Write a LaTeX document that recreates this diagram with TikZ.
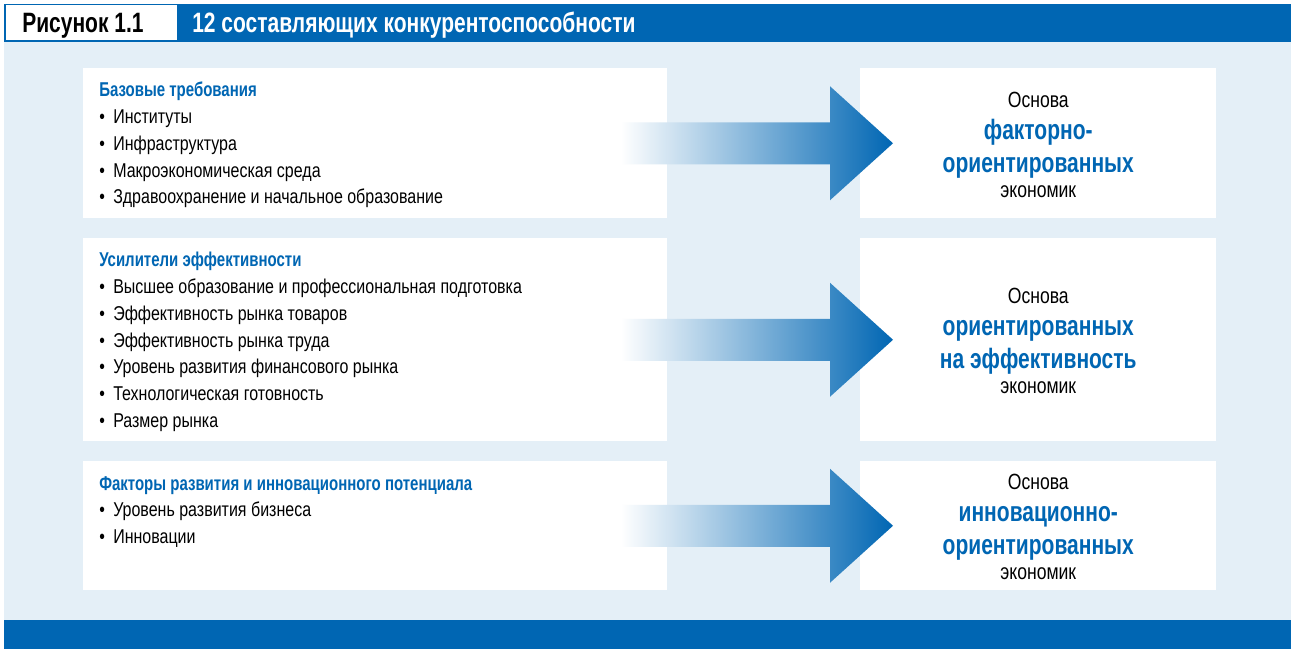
\documentclass[tikz,border=0pt]{standalone}
\usepackage{fontspec}
\setmainfont{Liberation Sans}[FakeStretch=0.8, BoldFeatures={FakeStretch=0.75}]
\usepackage{xcolor}
\usepackage{tikz}
\usetikzlibrary{positioning,calc}

\definecolor{wefblue}{HTML}{0066B3}
\definecolor{wefpale}{HTML}{E4EFF7}
\pgfdeclarehorizontalshading{arrowfade}{100bp}{color(0bp)=(white); color(25bp)=(white); color(75bp)=(wefblue); color(100bp)=(wefblue)}

\begin{document}
\begin{tikzpicture}[x=0.75pt, y=-0.75pt,
        box/.style={fill=white, inner sep=0pt, anchor=north west},
        lbox/.style={box, minimum width=438pt},
        rbox/.style={box, minimum width=267pt},
        head/.style={anchor=base west, inner sep=0pt, text=wefblue, font=\fontsize{15}{18}\selectfont\bfseries},
        item/.style={anchor=base west, inner sep=0pt, font=\fontsize{15}{18}\selectfont},
        small/.style={anchor=base, inner sep=0pt, font=\fontsize{16.5}{19}\selectfont},
        big/.style={anchor=base, inner sep=0pt, text=wefblue, font=\fontsize{21}{24}\selectfont\bfseries},
        title/.style={anchor=base west, inner sep=0pt, font=\fontsize{21}{24}\selectfont\bfseries}]

    \useasboundingbox[fill=white] (0,0) rectangle (1293,649);
    \fill[wefpale] (4,42) rectangle (1291,620);
    \fill[wefblue] (4,4) rectangle (1291,42);
    \fill[wefblue] (4,620) rectangle (1291,649);

    \node[box, minimum width=128.25pt, minimum height=26.25pt] (label) at (6,5) {};
    \node[title] (fig) at (22,33) {Рисунок 1.1};
    \node[title, text=white] (caption) at (192,33) {12 составляющих конкурентоспособности};

    \node[lbox, minimum height=112.5pt] (l1) at (83,68) {};
    \node[lbox, minimum height=152.25pt] (l2) at (83,238) {};
    \node[lbox, minimum height=96.75pt] (l3) at (83,461) {};
    \node[rbox, minimum height=112.5pt] (r1) at (860,68) {};
    \node[rbox, minimum height=152.25pt] (r2) at (860,238) {};
    \node[rbox, minimum height=96.75pt] (r3) at (860,461) {};

    \node[head] (h1) at ($(l1.north west)+(16,29)$) {Базовые требования};
    \node[head] (h2) at ($(l2.north west)+(16,29)$) {Усилители эффективности};
    \node[head] (h3) at ($(l3.north west)+(16,29)$) {Факторы развития и инновационного потенциала};

    \foreach \t [count=\i] in {Институты, Инфраструктура, Макроэкономическая среда, Здравоохранение и начальное образование}
        \node[item] (a-\i) at ($(h1.base west)+(0,26.7*\i)$) {\makebox[10.5pt][l]{\textbullet}\t};
    \foreach \t [count=\i] in {Высшее образование и профессиональная подготовка, Эффективность рынка товаров, Эффективность рынка труда, Уровень развития финансового рынка, Технологическая готовность, Размер рынка}
        \node[item] (b-\i) at ($(h2.base west)+(0,26.7*\i)$) {\makebox[10.5pt][l]{\textbullet}\t};
    \foreach \t [count=\i] in {Уровень развития бизнеса, Инновации}
        \node[item] (c-\i) at ($(h3.base west)+(0,26.7*\i)$) {\makebox[10.5pt][l]{\textbullet}\t};

    \foreach \k/\a/\b in {1/факторно-/ориентированных, 2/ориентированных/на эффективность, 3/инновационно-/ориентированных} {
        \shade[shading=arrowfade] ($(l\k.east)+(-47,-21)$) -- ($(r\k.west)+(-30,-21)$) -- ($(r\k.west)+(-30,-57)$)
            -- ($(r\k.west)+(33,0)$) -- ($(r\k.west)+(-30,57)$) -- ($(r\k.west)+(-30,21)$) -- ($(l\k.east)+(-47,21)$) -- cycle;
        \node[small] (o\k) at ($(r\k.center)+(0,-36)$) {Основа};
        \node[big] (p\k) at ($(r\k.center)+(0,-4)$) {\a};
        \node[big] (q\k) at ($(r\k.center)+(0,29)$) {\b};
        \node[small] (e\k) at ($(r\k.center)+(0,54)$) {экономик};
    }
\end{tikzpicture}
\end{document}
